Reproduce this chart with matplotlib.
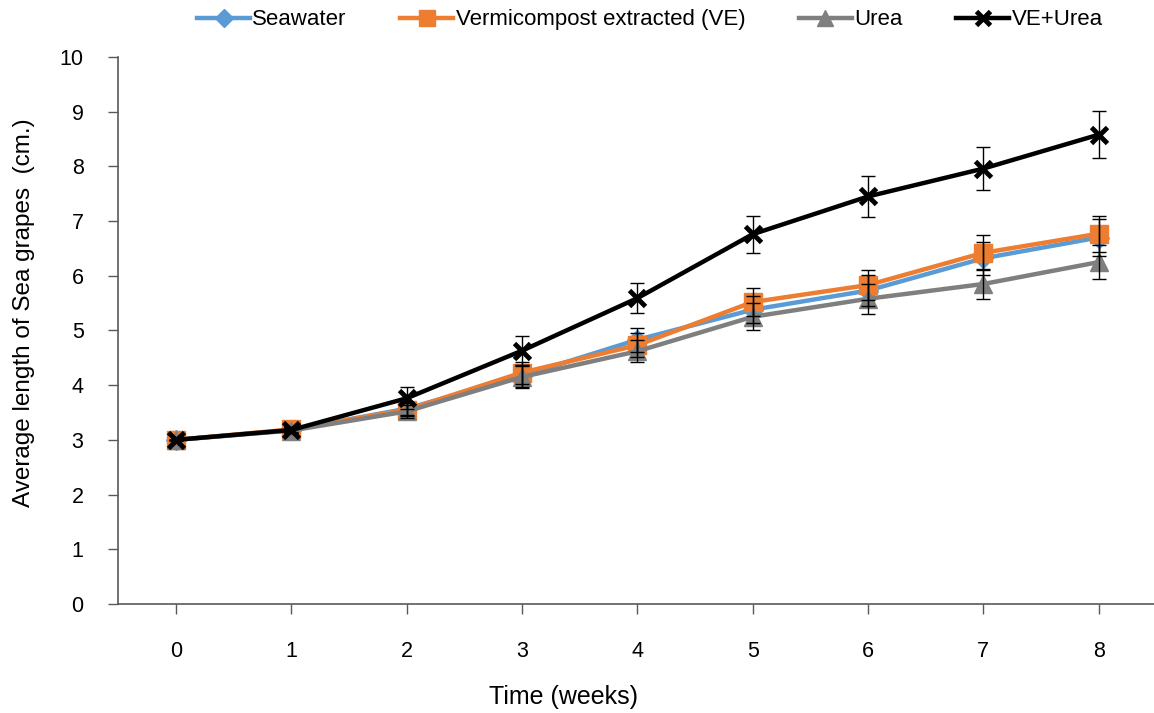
import matplotlib
matplotlib.use("Agg")
import matplotlib.pyplot as plt

plt.rcParams['font.family'] = ['Liberation Sans', 'DejaVu Sans']

weeks = [0, 1, 2, 3, 4, 5, 6, 7, 8]
seawater = [3.0, 3.18, 3.57, 4.17, 4.83, 5.38, 5.73, 6.32, 6.70]
seawater_err = [0.0, 0.05, 0.12, 0.20, 0.22, 0.25, 0.28, 0.30, 0.33]
ve = [3.0, 3.19, 3.55, 4.23, 4.73, 5.52, 5.83, 6.42, 6.77]
ve_err = [0.0, 0.05, 0.12, 0.20, 0.22, 0.26, 0.28, 0.32, 0.33]
urea = [3.0, 3.17, 3.52, 4.15, 4.62, 5.25, 5.58, 5.85, 6.25]
urea_err = [0.0, 0.05, 0.12, 0.20, 0.20, 0.25, 0.27, 0.28, 0.31]
ve_urea = [3.0, 3.18, 3.76, 4.63, 5.59, 6.76, 7.45, 7.96, 8.58]
ve_urea_err = [0.0, 0.05, 0.20, 0.26, 0.27, 0.34, 0.37, 0.40, 0.43]

labels = ["Seawater", "Vermicompost extracted (VE)", "Urea", "VE+Urea"]
colors = ["#5B9BD5", "#ED7D31", "#7F7F7F", "#000000"]
markers = ["D", "s", "^", "x"]
msizes = [10, 13, 13, 11]

fig = plt.figure(figsize=(11.54, 7.13), dpi=100)
ax = fig.add_axes([0.1025, 0.153, 0.8975, 0.767])

series = [(seawater, seawater_err), (ve, ve_err), (urea, urea_err), (ve_urea, ve_urea_err)]
handles = []
for (vals, errs), lab, c, m, ms in zip(series, labels, colors, markers, msizes):
    ax.errorbar(weeks, vals, yerr=errs, fmt='none', ecolor='black', elinewidth=1.0,
                capsize=5, capthick=1.0, zorder=5)
    mew = 3.5 if m == 'x' else 1
    h, = ax.plot(weeks, vals, color=c, lw=3.2, marker=m, markersize=ms,
                 markeredgewidth=mew, markeredgecolor=c, markerfacecolor=c,
                 label=lab, zorder=3)
    handles.append(h)

ax.set_xlim(-0.5, 8.48)
ax.set_ylim(0, 10)
ax.set_xticks(weeks)
ax.set_yticks(range(0, 11))
ax.tick_params(axis='both', labelsize=15.5, colors='#595959', labelcolor='black',
               length=7, width=1)
ax.tick_params(axis='y', pad=18)
ax.tick_params(axis='x', pad=20)
for s in ['top', 'right']:
    ax.spines[s].set_visible(False)
for s in ['left', 'bottom']:
    ax.spines[s].set_color('#595959')
    ax.spines[s].set_linewidth(1.2)

ax.set_xlabel("Time (weeks)", fontsize=18, labelpad=16)
ax.set_ylabel("Average length of Sea grapes  (cm.)", fontsize=17.5, labelpad=18)
ax.xaxis.label.set_x(0.43)
ax.yaxis.label.set_y(0.532)

fig.legend(handles=handles, labels=labels, loc='center', bbox_to_anchor=(0.563, 0.972),
           ncol=4, frameon=False, fontsize=16, handlelength=2.4, columnspacing=2.4,
           handletextpad=0.1, markerscale=0.9)

fig.savefig("out.png", dpi=100)
